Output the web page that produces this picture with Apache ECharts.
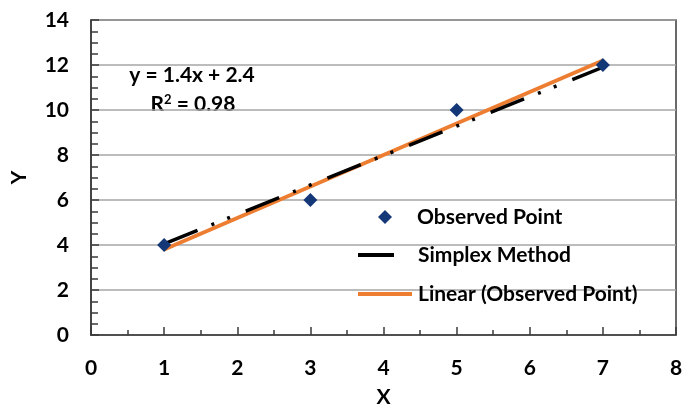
<!DOCTYPE html>
<html>
<head>
<meta charset="utf-8">
<script src="https://cdn.jsdelivr.net/npm/echarts@6/dist/echarts.min.js"></script>
<style>
  html, body { margin: 0; padding: 0; background: #fff; }
  #chart { width: 696px; height: 405px; }
</style>
</head>
<body>
<div id="chart"></div>
<script>
// Observed data points
const observedX = [1, 3, 5, 7];
const observedY = [4, 6, 10, 12];

// Line fitted by the simplex method
const simplexX = [1, 7];
const simplexY = [4.05, 11.9];

// Linear trendline y = 1.4x + 2.4, drawn across the observed range
const trendX = [1, 7];
const trendY = [3.8, 12.2];

const equationText = 'y = 1.4x + 2.4';
const r2Text = '0.98';

const seriesNames = ['Observed Point', 'Simplex Method', 'Linear (Observed Point)'];

const FONT = 'Lato';
const FS = 21;
const POINT_COLOR = '#143778';
const TREND_COLOR = '#ed7d31';
const pairs = (xs, ys) => xs.map((x, i) => [x, ys[i]]);

const chart = echarts.init(document.getElementById('chart'));

const legendText = {
  fontFamily: FONT, fontWeight: 'bold', fontSize: FS, color: '#000', lineHeight: 22
};
const axisText = { fontFamily: FONT, fontWeight: 'bold', fontSize: FS, color: '#000' };

chart.setOption({
  animation: false,
  backgroundColor: '#fff',
  grid: {
    left: 91, right: 20, top: 20, bottom: 70,
    outerBoundsMode: 'none', containLabel: false,
    show: true, borderColor: '#3a3a3a', borderWidth: 1.5
  },
  xAxis: {
    type: 'value', min: 0, max: 8, interval: 1,
    name: 'X', nameLocation: 'middle', nameGap: 52,
    nameTextStyle: axisText,
    axisLine: { show: true, onZero: false, lineStyle: { color: '#3a3a3a', width: 1.5 } },
    axisTick: { show: true, inside: true, length: 8, lineStyle: { color: '#3a3a3a', width: 1.5 } },
    minorTick: { show: true, splitNumber: 2, length: 5, lineStyle: { color: '#3a3a3a', width: 1.5 } },
    splitLine: { show: false },
    axisLabel: Object.assign({ margin: 23 }, axisText)
  },
  yAxis: {
    type: 'value', min: 0, max: 14, interval: 2,
    name: 'Y', nameLocation: 'middle', nameGap: 61, nameRotate: 90,
    nameTextStyle: axisText,
    axisLine: { show: true, lineStyle: { color: '#3a3a3a', width: 1.5 } },
    axisTick: { show: true, inside: true, length: 8, lineStyle: { color: '#3a3a3a', width: 1.5 } },
    minorTick: { show: true, splitNumber: 4, length: 7, lineStyle: { color: '#3a3a3a', width: 1.5 } },
    splitLine: { show: true, lineStyle: { color: '#a6a6a6', width: 1.5 } },
    axisLabel: Object.assign({ margin: 22 }, axisText)
  },
  legend: [
    {
      data: [{ name: seriesNames[0], icon: 'diamond' }],
      left: 378, top: 206, padding: 0, itemWidth: 14, itemHeight: 14,
      itemStyle: { color: POINT_COLOR, opacity: 1 },
      textStyle: Object.assign({ padding: [0, 0, 0, 20] }, legendText)
    },
    {
      data: [{ name: seriesNames[1], icon: 'rect' }],
      left: 358, top: 244, padding: 0, itemWidth: 36, itemHeight: 4,
      itemStyle: { color: '#000' },
      textStyle: Object.assign({ padding: [0, 0, 0, 19] }, legendText)
    },
    {
      data: [{ name: seriesNames[2], icon: 'rect' }],
      left: 358, top: 283, padding: 0, itemWidth: 54, itemHeight: 4,
      itemStyle: { color: TREND_COLOR },
      textStyle: Object.assign({ padding: [0, 0, 0, 1] }, legendText)
    }
  ],
  graphic: [
    {
      type: 'text',
      style: {
        text: equationText, x: 192, y: 75,
        align: 'center', verticalAlign: 'middle',
        fontFamily: FONT, fontWeight: 'bold', fontSize: FS, fill: '#000'
      }
    },
    {
      type: 'text',
      style: {
        text: '{r|R}{s|2}{r| = ' + r2Text + '}', x: 193, y: 104,
        align: 'center', verticalAlign: 'middle',
        rich: {
          r: { fontFamily: FONT, fontWeight: 'bold', fontSize: FS, color: '#000' },
          s: { fontFamily: FONT, fontWeight: 'bold', fontSize: 13, color: '#000', verticalAlign: 'top', padding: [0, 0, 9, 0] }
        }
      }
    }
  ],
  series: [
    {
      name: seriesNames[2], type: 'line', data: pairs(trendX, trendY),
      symbol: 'none', z: 2,
      lineStyle: { color: TREND_COLOR, width: 4 },
      itemStyle: { color: TREND_COLOR }
    },
    {
      name: seriesNames[1], type: 'line', data: pairs(simplexX, simplexY),
      symbol: 'none', z: 3,
      lineStyle: { color: '#000', width: 3.5, type: [36, 15, 3, 14, 3, 17], cap: 'butt' },
      itemStyle: { color: '#000' }
    },
    {
      name: seriesNames[0], type: 'scatter', data: pairs(observedX, observedY),
      symbol: 'diamond', symbolSize: 14, z: 4,
      itemStyle: { color: POINT_COLOR, opacity: 1 }
    }
  ]
});
</script>
</body>
</html>
